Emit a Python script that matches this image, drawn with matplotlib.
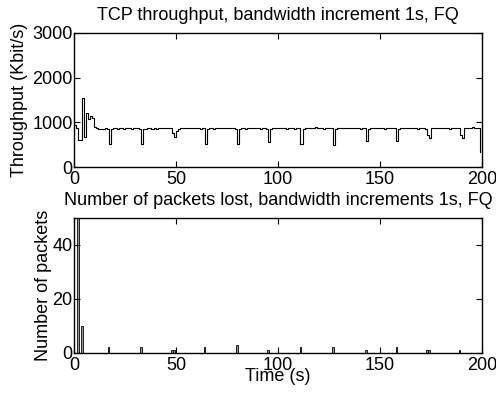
import matplotlib
matplotlib.use("Agg")
import matplotlib.pyplot as plt
import numpy as np

plt.rcParams['font.family'] = ['Liberation Sans', 'DejaVu Sans']

# Throughput per second (Kbit/s), t = 0..199
time_s = list(range(200))
throughput = [
    950, 880, 600, 600, 1545, 670, 1210, 1080, 1150, 1100,
    900, 870, 860, 855, 860, 865, 860, 515, 860, 865,
    865, 860, 870, 865, 860, 865, 870, 865, 860, 865,
    870, 865, 860, 515, 860, 860, 865, 870, 860, 865,
    860, 870, 875, 865, 870, 880, 870, 875, 760, 670,
    800, 860, 870, 865, 875, 870, 880, 870, 865, 875,
    870, 865, 860, 865, 515, 860, 870, 865, 860, 865,
    870, 875, 880, 870, 875, 870, 865, 870, 865, 860,
    510, 860, 865, 870, 860, 865, 870, 875, 865, 870,
    865, 860, 870, 865, 860, 567, 860, 865, 870, 875,
    865, 870, 880, 870, 860, 865, 870, 865, 860, 865,
    870, 515, 860, 870, 875, 880, 870, 875, 890, 870,
    865, 870, 860, 865, 870, 875, 865, 490, 860, 870,
    875, 865, 870, 880, 870, 865, 870, 875, 870, 865,
    860, 865, 870, 590, 860, 870, 865, 880, 870, 875,
    865, 870, 860, 865, 870, 875, 870, 865, 590, 860,
    865, 870, 880, 870, 875, 870, 865, 870, 860, 865,
    870, 880, 860, 715, 640, 870, 880, 875, 870, 865,
    870, 875, 870, 865, 860, 865, 870, 875, 870, 715,
    640, 870, 880, 870, 875, 890, 880, 870, 865, 340,
]

# Packets lost
loss_t = [2, 4, 17, 33, 48, 49, 64, 80, 95, 111, 127, 143, 158, 173, 174, 189]
loss_n = [60, 10, 2, 2, 1, 1, 2, 3, 1, 2, 2, 1, 2, 1, 1, 1]

xticks = [0, 50, 100, 150, 200]
yticks_top = [0, 1000, 2000, 3000]
yticks_bot = [0, 20, 40]

fig = plt.figure(figsize=(4.96, 3.96), dpi=100)
ax1 = fig.add_axes([0.149, 0.578, 0.823, 0.339])
ax2 = fig.add_axes([0.149, 0.109, 0.823, 0.341])

fs = 13
for ax in (ax1, ax2):
    ax.tick_params(direction='in', top=True, right=True, labelsize=fs,
                   length=4, width=0.8, pad=1)
    ax.tick_params(axis='x', pad=3)
    for s in ax.spines.values():
        s.set_linewidth(1.0)
    ax.set_xlim(0, 200)
    ax.set_xticks(xticks)

ax1.plot(time_s, throughput, drawstyle='steps-post', color='black', lw=0.8)
ax1.set_ylim(0, 3000)
ax1.set_yticks(yticks_top)
ax1.set_title('TCP throughput, bandwidth increment 1s, FQ', fontsize=fs, pad=9)
ax1.set_ylabel('Throughput (Kbit/s)', fontsize=fs, labelpad=3)

ax2.bar(loss_t, loss_n, width=0.8, facecolor='#999999', edgecolor='black', lw=0.6)
ax2.set_ylim(0, 50)
ax2.set_yticks(yticks_bot)
ax2.set_title('Number of packets lost, bandwidth increments 1s, FQ', fontsize=fs, pad=9)
ax2.set_ylabel('Number of packets', fontsize=fs, labelpad=0)
ax2.set_xlabel('Time (s)', fontsize=fs, labelpad=-4)

fig.savefig('out.png', dpi=100)
